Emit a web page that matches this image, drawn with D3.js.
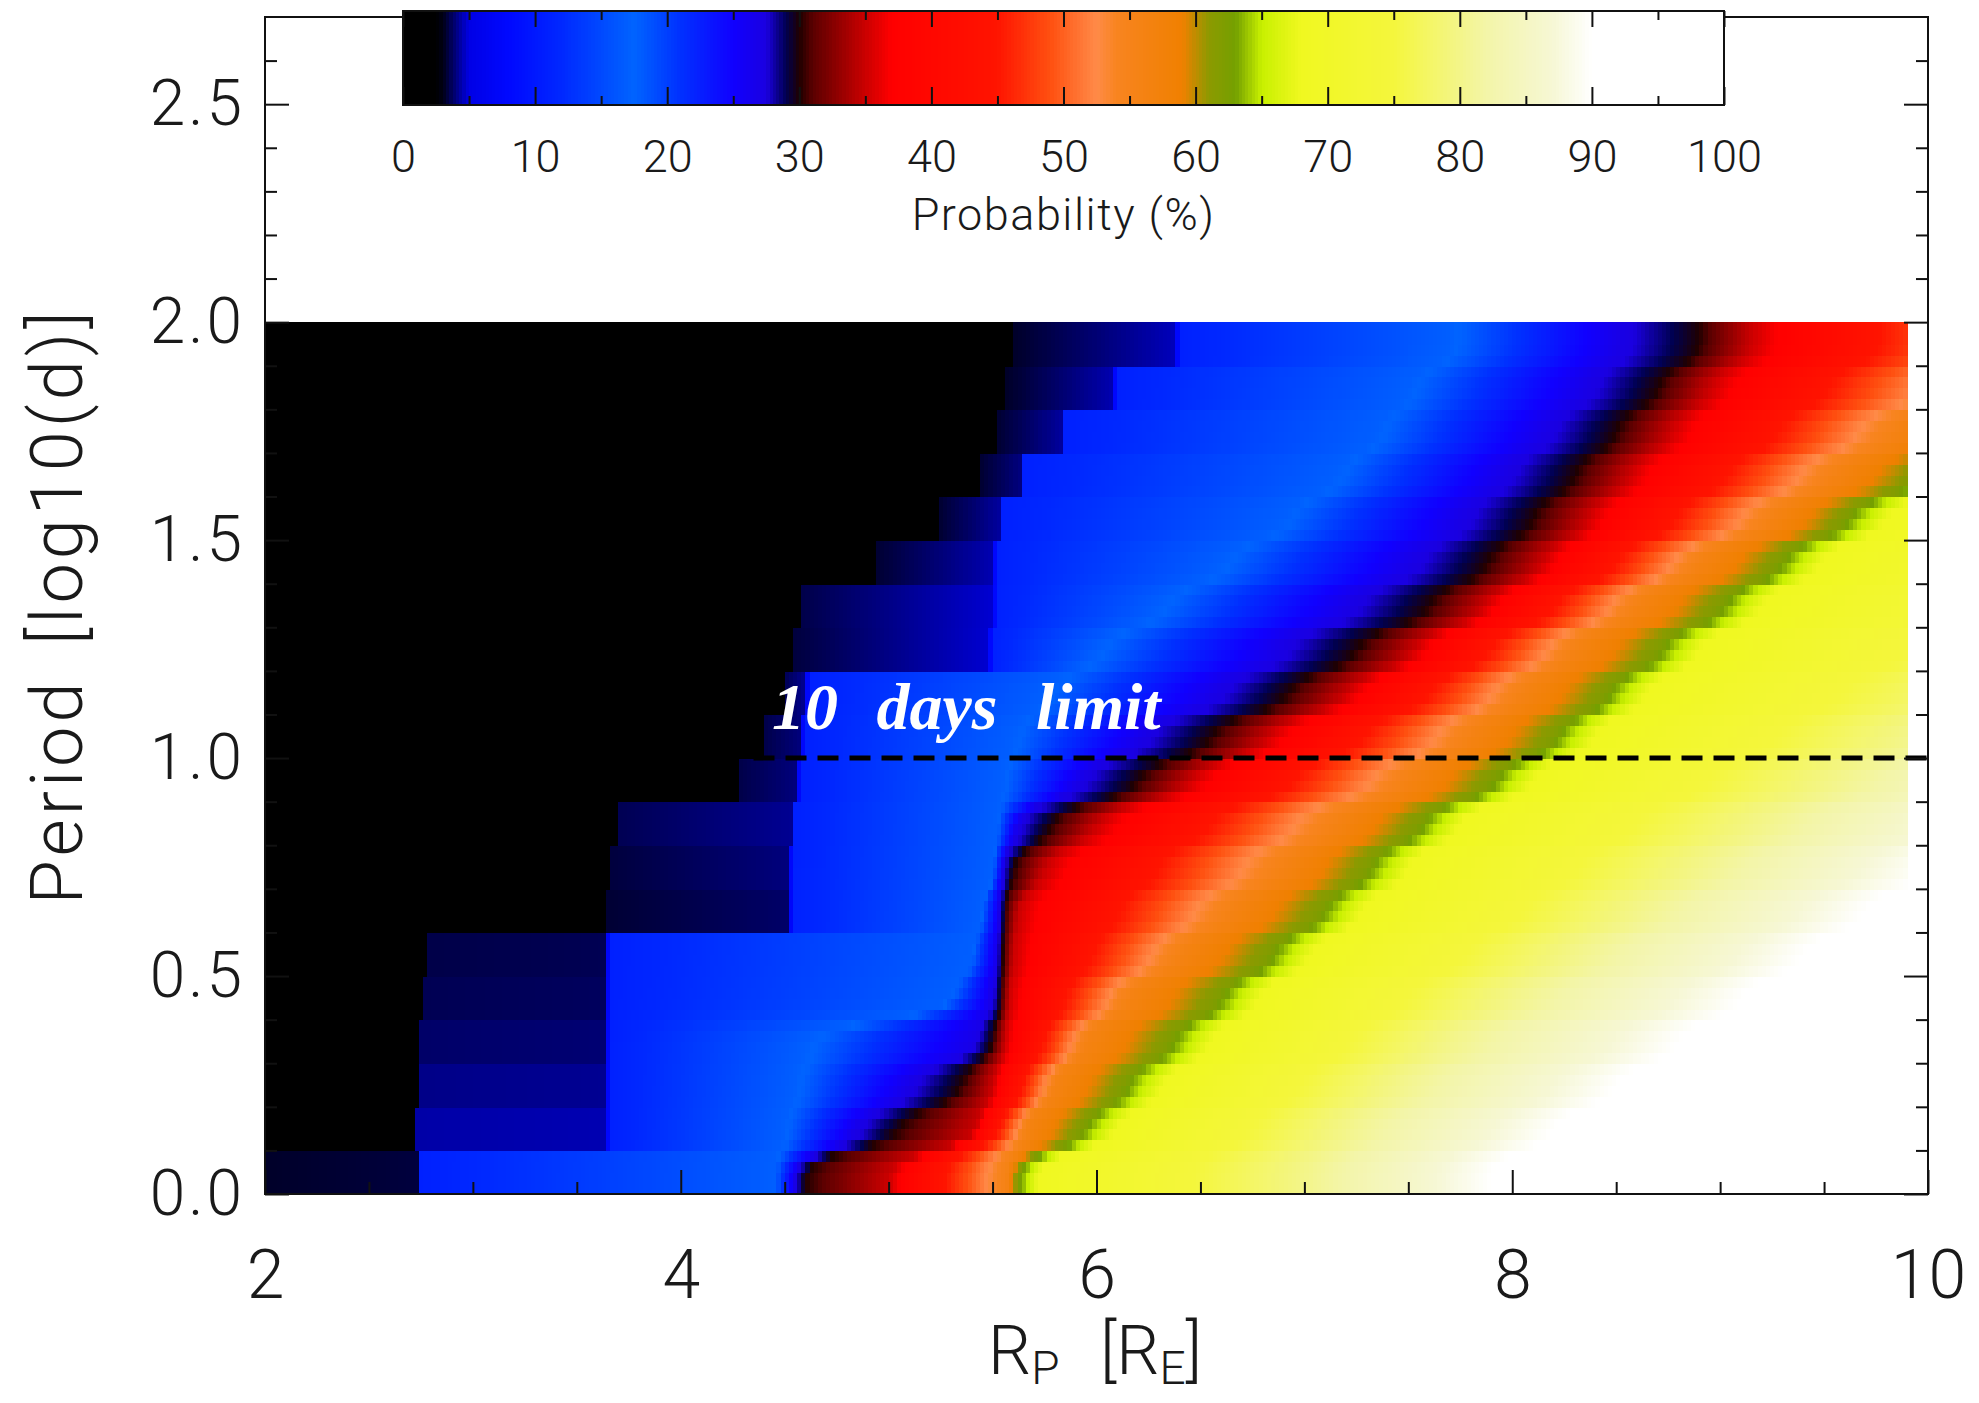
<!DOCTYPE html>
<html>
<head>
<meta charset="utf-8">
<script src="https://cdn.jsdelivr.net/npm/d3@7"></script>
<style>
  html, body { margin: 0; padding: 0; background: #ffffff; }
  svg { display: block; }
  .lbl { font-family: Roboto, "DejaVu Sans", sans-serif; font-weight: 300; fill: #1a1a1a; }
  .axis path { display: none; }
  .axis line { stroke: #111; stroke-width: 2; }
  .axis text { font-family: Roboto, "DejaVu Sans", sans-serif; font-weight: 300; fill: #1a1a1a; }
</style>
</head>
<body>
<svg id="chart" width="1979" height="1403"></svg>
<script>
// ---- Probability map: planet radius (R_E) vs. orbital period (log10 days) ----

// Lower edges of the period bands (log10 d); each band is 0.1 dex tall.
const periodBands = [0.0, 0.1, 0.2, 0.3, 0.4, 0.5, 0.6, 0.7, 0.8, 0.9,
                     1.0, 1.1, 1.2, 1.3, 1.4, 1.5, 1.6, 1.7, 1.8, 1.9];
const bandHeight = 0.1;
// Radius extent covered by the map
const radiusRange = [2.0, 9.9];

// Per band: radius at which each probability level is reached.
// Below blackEnd the probability is ~1 %.
const blackEnd  = [2.00, 2.73, 2.74, 2.75, 2.76, 2.78, 3.64, 3.67, 3.70, 4.28,
                   4.40, 4.50, 4.55, 4.58, 4.95, 5.25, 5.45, 5.53, 5.57, 5.60];
// Dark-blue plateau between blackEnd and blueStart (probability at its two ends, %)
const navyLow   = [3.2, 4.4, 4.1, 3.8, 3.6, 3.5, 3.3, 3.4, 3.6, 3.5,
                   3.5, 3.6, 3.4, 3.5, 3.3, 3.3, 3.3, 3.3, 3.2, 3.2];
const navyHigh  = [3.4, 4.5, 4.2, 3.9, 3.7, 3.6, 3.8, 4.0, 4.2, 4.0,
                   4.0, 4.2, 4.8, 4.8, 4.5, 4.3, 4.0, 4.3, 4.5, 4.6];
// 11 %
const blueStart = [2.75, 3.66, 3.66, 3.66, 3.66, 3.66, 4.54, 4.54, 4.55, 4.58,
                   4.60, 4.62, 5.50, 5.52, 5.52, 5.55, 5.65, 5.85, 6.10, 6.40];
// 17 %
const blueLight = [4.45, 4.50, 4.55, 4.60, 5.30, 5.40, 5.45, 5.50, 5.52, 5.55,
                   5.60, 5.75, 6.00, 6.30, 6.60, 6.90, 7.15, 7.35, 7.50, 7.70];
// 27 %
const blueDeep  = [4.55, 4.85, 5.10, 5.42, 5.50, 5.52, 5.53, 5.55, 5.62, 5.92,
                   6.22, 6.58, 6.88, 7.22, 7.52, 7.76, 7.96, 8.16, 8.36, 8.52];
// 30 %
const darkMid   = [4.60, 5.05, 5.35, 5.50, 5.54, 5.55, 5.56, 5.60, 5.78, 6.20,
                   6.55, 6.92, 7.25, 7.60, 7.88, 8.10, 8.30, 8.50, 8.70, 8.90];
// 35 %
const redStart  = [5.00, 5.42, 5.50, 5.56, 5.58, 5.60, 5.62, 5.75, 6.00, 6.45,
                   6.82, 7.20, 7.52, 7.86, 8.14, 8.36, 8.56, 8.76, 8.95, 9.15];
// 56 %
const orangeAt  = [5.57, 5.66, 5.80, 5.95, 6.15, 6.40, 6.65, 6.90, 7.15, 7.50,
                   7.80, 8.05, 8.30, 8.60, 8.90, 9.25, 9.55, 9.85, 10.15, 10.45];
// 62 %
const greenAt   = [5.62, 5.93, 6.13, 6.35, 6.58, 6.83, 7.08, 7.30, 7.55, 7.90,
                   8.20, 8.45, 8.70, 9.00, 9.28, 9.60, 9.95, 10.30, 10.65, 11.00];
// 68 %
const yellowAt  = [5.72, 6.10, 6.32, 6.55, 6.78, 7.03, 7.28, 7.50, 7.75, 8.10,
                   8.40, 8.65, 8.90, 9.20, 9.48, 9.80, 10.15, 10.50, 10.85, 11.20];
// 80 %
const paleAt    = [7.00, 7.20, 7.45, 7.70, 8.00, 8.30, 8.60, 8.90, 9.20, 9.55,
                   9.90, 10.25, 10.60, 10.95, 11.30, 11.65, 12.00, 12.35, 12.70, 13.05];
// 90 %
const whiteAt   = [7.90, 8.20, 8.50, 8.80, 9.10, 9.40, 9.70, 10.00, 10.35, 10.70,
                   11.05, 11.40, 11.75, 12.10, 12.45, 12.80, 13.15, 13.50, 13.85, 14.20];

// Colour table (probability % -> colour)
const colourStops = [0, 2.5, 3, 5, 8, 12, 17.5, 21, 25, 27.5, 29, 30, 31, 34, 37,
                     45, 49, 52.5, 54, 59, 61, 63, 65, 68, 75, 82, 87, 90, 100];
const colourValues = ["#000000", "#000000", "#000014", "#0000e6", "#0008ff", "#0028ff",
                      "#0064ff", "#0030ff", "#1000ff", "#1a00e0", "#000050", "#200000",
                      "#5a0000", "#b00000", "#ff0000", "#ff1400", "#ff5010", "#ff8a48",
                      "#f88420", "#f08000", "#8c9a00", "#74a000", "#c8f000", "#f0f820",
                      "#f4f63c", "#f3f5a8", "#f6f7d4", "#ffffff", "#ffffff"];

// Axis ticks
const xMajorTicks = [2, 4, 6, 8, 10];
const xMinorTicks = [2.5, 3, 3.5, 4.5, 5, 5.5, 6.5, 7, 7.5, 8.5, 9, 9.5];
const yMajorTicks = [0, 0.5, 1.0, 1.5, 2.0, 2.5];
const yMinorTicks = [0.1, 0.2, 0.3, 0.4, 0.6, 0.7, 0.8, 0.9, 1.1, 1.2, 1.3, 1.4,
                     1.6, 1.7, 1.8, 1.9, 2.1, 2.2, 2.3, 2.4, 2.6];
const barMajorTicks = [0, 10, 20, 30, 40, 50, 60, 70, 80, 90, 100];
const barMinorTicks = [5, 15, 25, 35, 45, 55, 65, 75, 85, 95];

// The 10-day period limit and where its marker line begins
const periodLimit = 1.0;
const limitLineStart = 4.35;

// ---------------------------------------------------------------------------
const svg = d3.select("#chart");

const x = d3.scaleLinear().domain([2, 10]).range([265, 1928]);
const y = d3.scaleLinear().domain([0, 2.7]).range([1194, 17]);
const colour = d3.scaleLinear().domain(colourStops).range(colourValues)
  .interpolate(d3.interpolateRgb).clamp(true);

// Upper levels are shaded between band centres (with a slight step-like easing);
// the dark edges on the left stay stepped band by band.
const bandCentres = periodBands.map(p => p + bandHeight / 2);
const ease = t => 0.45 * t + 0.55 * d3.easeCubicInOut(t);
const across = arr => lp => {
  if (lp <= bandCentres[0]) return arr[0];
  const last = bandCentres.length - 1;
  if (lp >= bandCentres[last]) return arr[last];
  const j = Math.min(last - 1, Math.floor((lp - bandCentres[0]) / bandHeight));
  const t = (lp - bandCentres[j]) / bandHeight;
  return arr[j] + (arr[j + 1] - arr[j]) * ease(t);
};
const smoothLevels = [
  [across(blueLight), 17], [across(blueDeep), 27], [across(darkMid), 30],
  [across(redStart), 35], [across(orangeAt), 56], [across(greenAt), 62],
  [across(yellowAt), 68], [across(paleAt), 80], [across(whiteAt), 90]
];

// Probability along radius at a given period (piecewise linear in radius)
function profileAt(logP) {
  const i = Math.min(periodBands.length - 1, Math.floor(logP / bandHeight + 1e-9));
  const k = [];
  if (blackEnd[i] > radiusRange[0]) {
    k.push([radiusRange[0], 1], [blackEnd[i] - 0.005, 1]);
  }
  k.push([blackEnd[i], navyLow[i]], [blueStart[i] - 0.02, navyHigh[i]], [blueStart[i], 11]);
  smoothLevels.forEach(([f, p]) => k.push([f(logP), p]));
  k.push([20, 100]);
  for (let j = 1; j < k.length; j++) k[j][0] = Math.max(k[j][0], k[j - 1][0] + 0.001);
  return d3.scaleLinear().domain(k.map(d => d[0])).range(k.map(d => d[1])).clamp(true);
}

// Map cells
const step = 0.02, subStep = 0.025;
const nCols = Math.round((radiusRange[1] - radiusRange[0]) / step);
const cols = d3.range(nCols).map(j => radiusRange[0] + j * step);
const nRows = Math.round(periodBands.length * bandHeight / subStep);
const rows = d3.range(nRows).map(j => j * subStep);
const cellW = x(step) - x(0);
const map = svg.append("g").attr("shape-rendering", "crispEdges");
rows.forEach(p0 => {
  const prob = profileAt(p0 + subStep / 2);
  const yTop = y(p0 + subStep), yBot = y(p0);
  map.append("g").selectAll("rect").data(cols).join("rect")
    .attr("x", r => x(r))
    .attr("y", yTop)
    .attr("width", cellW + 0.8)
    .attr("height", yBot - yTop + 0.8)
    .attr("fill", r => colour(prob(r + step / 2)));
});

// 10-day limit
svg.append("line")
  .attr("x1", x(limitLineStart)).attr("x2", x(10))
  .attr("y1", y(periodLimit)).attr("y2", y(periodLimit))
  .attr("stroke", "#000").attr("stroke-width", 5)
  .attr("stroke-dasharray", "21,11");

svg.append("text")
  .attr("x", 772).attr("y", 729)
  .attr("font-family", "'Liberation Serif', 'Times New Roman', serif")
  .attr("font-weight", "bold").attr("font-style", "italic")
  .attr("font-size", 66).attr("word-spacing", 22)
  .attr("fill", "#ffffff")
  .text("10 days limit");

// Axes (ticks point inward)
function addAxis(gen, tx, ty, values, size, fmt, pad, fs) {
  const g = svg.append("g").attr("class", "axis")
    .attr("transform", `translate(${tx},${ty})`)
    .call(gen.tickValues(values).tickSize(size).tickPadding(pad).tickFormat(fmt));
  g.selectAll("text").attr("font-size", fs);
  return g;
}
const none = () => "";
addAxis(d3.axisLeft(y), 265, 0, yMajorTicks, -24, d3.format(".1f"), 20, 64)
  .selectAll("text").attr("letter-spacing", 3);
addAxis(d3.axisLeft(y), 265, 0, yMinorTicks, -12, none, 0, 0);
addAxis(d3.axisRight(y), 1928, 0, yMajorTicks, -24, none, 0, 0);
addAxis(d3.axisRight(y), 1928, 0, yMinorTicks, -12, none, 0, 0);
addAxis(d3.axisBottom(x), 0, 1194, xMajorTicks, -24, d3.format("d"), 56, 68);
addAxis(d3.axisBottom(x), 0, 1194, xMinorTicks, -12, none, 0, 0);

// Frame
svg.append("rect")
  .attr("x", x(2)).attr("y", y(2.7))
  .attr("width", x(10) - x(2)).attr("height", y(0) - y(2.7))
  .attr("fill", "none").attr("stroke", "#111").attr("stroke-width", 2);

// Colour bar
const cx = d3.scaleLinear().domain([0, 100]).range([403, 1724]);
const cbTop = 11, cbBot = 105;
const barSteps = d3.range(0, 100, 0.25);
svg.append("g").attr("shape-rendering", "crispEdges")
  .selectAll("rect").data(barSteps).join("rect")
  .attr("x", p => cx(p)).attr("y", cbTop)
  .attr("width", cx(0.25) - cx(0) + 0.6).attr("height", cbBot - cbTop)
  .attr("fill", p => colour(p + 0.125));
svg.append("rect")
  .attr("x", cx(0)).attr("y", cbTop)
  .attr("width", cx(100) - cx(0)).attr("height", cbBot - cbTop)
  .attr("fill", "none").attr("stroke", "#111").attr("stroke-width", 2);
addAxis(d3.axisBottom(cx), 0, cbTop, barMajorTicks, 16, none, 0, 0);
addAxis(d3.axisBottom(cx), 0, cbTop, barMinorTicks, 9, none, 0, 0);
addAxis(d3.axisTop(cx), 0, cbBot, barMajorTicks, 18, none, 0, 0);
addAxis(d3.axisTop(cx), 0, cbBot, barMinorTicks, 9, none, 0, 0);
addAxis(d3.axisBottom(cx), 0, cbBot, barMajorTicks, 0, d3.format("d"), 35, 45);

svg.append("text").attr("class", "lbl")
  .attr("x", cx(50)).attr("y", 230)
  .attr("text-anchor", "middle").attr("font-size", 45)
  .attr("letter-spacing", 1.5)
  .text("Probability (%)");

// Axis titles
svg.append("text").attr("class", "lbl")
  .attr("transform", "translate(82,606) rotate(-90)")
  .attr("text-anchor", "middle").attr("font-size", 72)
  .attr("letter-spacing", 4).attr("word-spacing", 12)
  .text("Period [log10(d)]");

const xt = svg.append("text").attr("class", "lbl")
  .attr("x", 1095).attr("y", 1374)
  .attr("text-anchor", "middle").attr("font-size", 68)
  .attr("word-spacing", 24);
xt.append("tspan").text("R");
xt.append("tspan").attr("font-size", 46).attr("dy", 10).text("P");
xt.append("tspan").attr("dy", -10).text(" [R");
xt.append("tspan").attr("font-size", 46).attr("dy", 10).text("E");
xt.append("tspan").attr("dy", -10).text("]");
</script>
</body>
</html>
